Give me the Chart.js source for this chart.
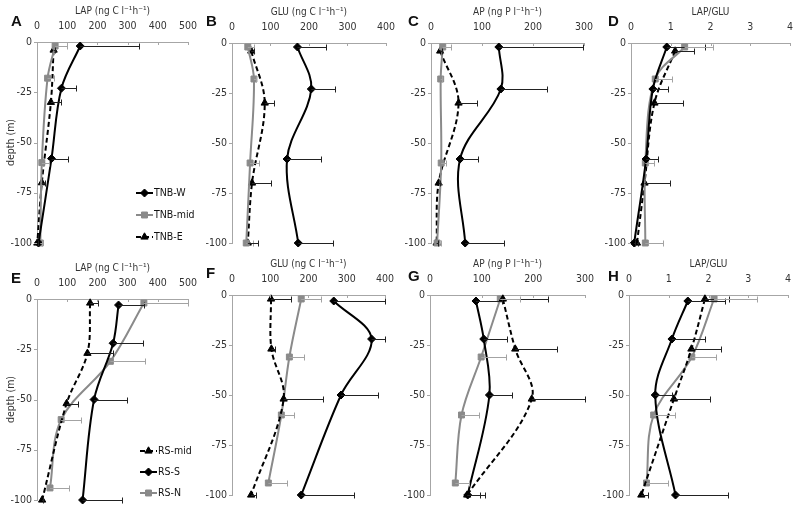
<!DOCTYPE html>
<html>
<head>
<meta charset="utf-8">
<script src="https://cdn.jsdelivr.net/npm/chart.js@4.4.1/dist/chart.umd.min.js"></script>
<style>
  body { margin: 0; background: #fff; width: 798px; height: 513px; position: relative; overflow: hidden; }
  canvas { position: absolute; }
  .letter { position: absolute; font: bold 15px "Liberation Sans", Arial, sans-serif; line-height: 15px; color: #111; }
</style>
</head>
<body>
<script>
// depths of the sampling points (m)
const depthTNBW = [-2, -23, -58, -100];
const depthTNBmid = [-2, -18, -60, -100];
const depthTNBE = [-4, -30, -70, -100];
const depthRSmid = [-2, -27, -52, -100];
const depthRSS = [-3, -22, -50, -100];
const depthRSN = [-2, -31, -60, -94];

// A - LAP, TNB
const lapTNBW = [143, 81, 48, 5];
const lapTNBWsd = [194, 48, 54, 0];
const lapTNBmid = [60, 35, 16, 11];
const lapTNBmidSd = [40, 22, 23, 6];
const lapTNBE = [55, 46, 16, 1];
const lapTNBEsd = [5, 32, 9, 3];
// B - GLU, TNB
const gluTNBW = [170, 206, 143, 172];
const gluTNBWsd = [74, 61, 87, 91];
const gluTNBmid = [41, 57, 47, 37];
const gluTNBmidSd = [17, 6, 24, 17];
const gluTNBE = [50, 85, 52, 41];
const gluTNBEsd = [8, 24, 49, 26];
// C - AP, TNB
const apTNBW = [133, 137, 57, 67];
const apTNBWsd = [165, 91, 35, 76];
const apTNBmid = [23, 19, 20, 12];
const apTNBmidSd = [16, 3, 10, 8];
const apTNBE = [18, 54, 15, 11];
const apTNBEsd = [3, 37, 3, 3];
// D - LAP/GLU, TNB
const ratioTNBW = [0.90, 0.55, 0.38, 0.08];
const ratioTNBWsd = [0.95, 0.37, 0.29, 0.03];
const ratioTNBmid = [1.35, 0.61, 0.36, 0.36];
const ratioTNBmidSd = [0.71, 0.42, 0.22, 0.44];
const ratioTNBE = [1.11, 0.59, 0.34, 0.15];
const ratioTNBEsd = [0.48, 0.72, 0.63, 0.02];
// E - LAP, RS
const lapRSmid = [176, 167, 98, 17];
const lapRSmidSd = [25, 85, 37, 2];
const lapRSS = [270, 252, 189, 151];
const lapRSSsd = [84, 100, 109, 130];
const lapRSN = [354, 243, 80, 43];
const lapRSNsd = [146, 113, 67, 63];
// F - GLU, RS
const gluRSmid = [102, 103, 135, 50];
const gluRSmidSd = [51, 10, 104, 14];
const gluRSS = [266, 365, 285, 181];
const gluRSSsd = [134, 35, 98, 138];
const gluRSN = [181, 150, 129, 95];
const gluRSNsd = [53, 38, 33, 48];
// G - AP, RS
const apRSmid = [141, 165, 197, 72];
const apRSmidSd = [87, 80, 103, 25];
const apRSS = [89, 104, 115, 73];
const apRSSsd = [50, 45, 44, 34];
const apRSN = [136, 99, 61, 49];
const apRSNsd = [38, 49, 33, 26];
// H - LAP/GLU, RS
const ratioRSmid = [1.91, 1.57, 1.13, 0.31];
const ratioRSmidSd = [0.61, 0.75, 0.92, 0.17];
const ratioRSS = [1.48, 1.08, 0.66, 1.17];
const ratioRSSsd = [0.93, 0.82, 0.43, 1.32];
const ratioRSN = [2.14, 1.58, 0.62, 0.44];
const ratioRSNsd = [1.08, 0.62, 0.53, 0.54];

const FONT = "'Liberation Sans Narrow', 'Arial Narrow', 'DejaVu Sans Condensed', sans-serif";
const AXIS = '#a6a6a6';
const TXT = '#333';

const black = { color: '#000', pt: 'rectRot', r: 4, dash: [], err: '#222' };
const grey = { color: '#8a8a8a', pt: 'rect', r: 4.2, dash: [], err: '#a3a3a3' };
const dashed = { color: '#000', pt: 'triangle', r: 4.2, dash: [5, 3], err: '#222' };

const TNB = (w, wsd, m, msd, e, esd) => [
  ['TNB-W', black, depthTNBW, w, wsd],
  ['TNB-mid', grey, depthTNBmid, m, msd],
  ['TNB-E', dashed, depthTNBE, e, esd]
];
const RS = (m, msd, s, ssd, n, nsd) => [
  ['RS-mid', dashed, depthRSmid, m, msd],
  ['RS-S', black, depthRSS, s, ssd],
  ['RS-N', grey, depthRSN, n, nsd]
];

const panels = [
  { letter: 'A', lp: [11, 15], box: [37, 42, 192, 243], title: 'LAP (ng C l⁻¹h⁻¹)', max: 500, step: 100, depth: true,
    legend: [136, 193, 22], series: TNB(lapTNBW, lapTNBWsd, lapTNBmid, lapTNBmidSd, lapTNBE, lapTNBEsd) },
  { letter: 'B', lp: [206, 15], box: [232, 43, 390, 243], title: 'GLU (ng C l⁻¹h⁻¹)', max: 400, step: 100,
    series: TNB(gluTNBW, gluTNBWsd, gluTNBmid, gluTNBmidSd, gluTNBE, gluTNBEsd) },
  { letter: 'C', lp: [408, 15], box: [431, 43, 588, 243], title: 'AP (ng P l⁻¹h⁻¹)', max: 300, step: 100,
    series: TNB(apTNBW, apTNBWsd, apTNBmid, apTNBmidSd, apTNBE, apTNBEsd) },
  { letter: 'D', lp: [608, 15], box: [631, 43, 790, 243], title: 'LAP/GLU', max: 4, step: 1,
    series: TNB(ratioTNBW, ratioTNBWsd, ratioTNBmid, ratioTNBmidSd, ratioTNBE, ratioTNBEsd) },
  { letter: 'E', lp: [11, 272], box: [37, 299, 192, 500], title: 'LAP (ng C l⁻¹h⁻¹)', max: 500, step: 100, depth: true,
    legend: [140, 451, 21], series: RS(lapRSmid, lapRSmidSd, lapRSS, lapRSSsd, lapRSN, lapRSNsd) },
  { letter: 'F', lp: [206, 267], box: [232, 295, 389, 495], title: 'GLU (ng C l⁻¹h⁻¹)', max: 400, step: 100,
    series: RS(gluRSmid, gluRSmidSd, gluRSS, gluRSSsd, gluRSN, gluRSNsd) },
  { letter: 'G', lp: [408, 270], box: [430, 295, 589, 495], title: 'AP (ng P l⁻¹h⁻¹)', max: 300, step: 100,
    series: RS(apRSmid, apRSmidSd, apRSS, apRSSsd, apRSN, apRSNsd) },
  { letter: 'H', lp: [608, 270], box: [629, 295, 788, 495], title: 'LAP/GLU', max: 4, step: 1,
    series: RS(ratioRSmid, ratioRSmidSd, ratioRSS, ratioRSSsd, ratioRSN, ratioRSNsd) }
];

const YW = 40, XH = 44, PADR = 14, PADB = 12;

function marker(ctx, st, x, y) {
  ctx.fillStyle = st.color;
  ctx.strokeStyle = st.color;
  ctx.lineWidth = 1;
  ctx.setLineDash([]);
  Chart.helpers.drawPoint(ctx, { pointStyle: st.pt, radius: st.r, rotation: 0, borderWidth: 1 }, x, y);
}

// error bars, inward tick marks and the in-plot legend
const extras = {
  id: 'extras',
  afterDatasetsDraw(chart) {
    const { ctx, chartArea: a, scales: { x, y } } = chart;
    ctx.save();
    ctx.beginPath();
    ctx.rect(a.left, a.top - 8, a.right - a.left + 1.5, a.bottom - a.top + 16);
    ctx.clip();
    ctx.lineWidth = 1;
    chart.data.datasets.forEach(ds => {
      ctx.strokeStyle = ds.errColor;
      ds.data.forEach((p, i) => {
        const e = ds.sd[i];
        if (!e) return;
        const x0 = x.getPixelForValue(p.x);
        const x1 = Math.round(x.getPixelForValue(p.x + e)) + 0.5;
        const py = Math.round(y.getPixelForValue(p.y)) + 0.5;
        ctx.beginPath();
        ctx.moveTo(x0, py); ctx.lineTo(x1, py);
        ctx.moveTo(x1, py - 3); ctx.lineTo(x1, py + 3);
        ctx.stroke();
      });
    });
    ctx.restore();
  },
  afterDraw(chart, args, opts) {
    const { ctx, chartArea: a, scales: { x, y } } = chart;
    ctx.save();
    ctx.strokeStyle = AXIS;
    ctx.lineWidth = 1;
    ctx.beginPath();
    x.ticks.forEach(t => {
      const px = Math.round(x.getPixelForValue(t.value)) + 0.5;
      ctx.moveTo(px, a.top); ctx.lineTo(px, a.top + 3);
    });
    y.ticks.forEach(t => {
      const py = Math.round(y.getPixelForValue(t.value)) + 0.5;
      ctx.moveTo(a.left - 3, py); ctx.lineTo(a.left, py);
    });
    ctx.stroke();
    if (opts.legend) {
      const [lx, ly, dy] = opts.legend;
      chart.data.datasets.forEach((ds, i) => {
        const yy = ly + i * dy;
        ctx.strokeStyle = ds.borderColor;
        ctx.lineWidth = 2;
        ctx.setLineDash(ds.borderDash);
        ctx.beginPath();
        ctx.moveTo(lx, yy); ctx.lineTo(lx + 17, yy);
        ctx.stroke();
        marker(ctx, ds.st, lx + 8.5, yy);
        ctx.fillStyle = '#111';
        ctx.font = '10.5px ' + FONT;
        ctx.textBaseline = 'middle';
        ctx.textAlign = 'left';
        ctx.fillText(ds.label, lx + 18, yy + 0.5);
      });
    }
    ctx.restore();
  }
};

panels.forEach(p => {
  const [l, t, r, b] = p.box;
  const cl = l - YW, ct = t - XH;
  const cv = document.createElement('canvas');
  cv.width = r - l + YW + PADR;
  cv.height = b - t + XH + PADB;
  cv.style.left = cl + 'px';
  cv.style.top = ct + 'px';
  document.body.appendChild(cv);

  const lt = document.createElement('div');
  lt.className = 'letter';
  lt.textContent = p.letter;
  lt.style.left = p.lp[0] + 'px';
  lt.style.top = (p.lp[1] - 2) + 'px';
  document.body.appendChild(lt);

  const datasets = p.series.map(([label, st, depth, vals, sd]) => ({
    label, st, sd,
    data: depth.map((d, i) => ({ x: vals[i], y: d })),
    borderColor: st.color,
    backgroundColor: st.color,
    borderWidth: 2,
    borderDash: st.dash,
    pointStyle: st.pt,
    pointRadius: st.r,
    pointBorderWidth: 1,
    pointBackgroundColor: st.color,
    pointBorderColor: st.color,
    showLine: true,
    tension: 0.35,
    clip: false,
    errColor: st.err
  }));

  new Chart(cv, {
    type: 'scatter',
    data: { datasets },
    plugins: [extras],
    options: {
      responsive: false,
      animation: false,
      devicePixelRatio: 1,
      layout: { padding: { left: 0, top: 0, right: PADR, bottom: PADB } },
      plugins: {
        legend: { display: false },
        tooltip: { enabled: false },
        extras: { legend: p.legend ? [p.legend[0] - cl, p.legend[1] - ct, p.legend[2]] : null }
      },
      scales: {
        x: {
          type: 'linear', position: 'top', min: 0, max: p.max,
          grid: { display: false, drawTicks: false },
          border: { display: true, color: AXIS, width: 1 },
          ticks: { stepSize: p.step, padding: 9, color: TXT, font: { family: FONT, size: 10.5 } },
          title: { display: true, text: p.title, color: TXT, padding: { top: 7, bottom: 0 }, font: { family: FONT, size: 10 } },
          afterFit: s => { s.height = XH; }
        },
        y: {
          type: 'linear', position: 'left', min: -100, max: 0,
          grid: { display: false, drawTicks: false },
          border: { display: true, color: AXIS, width: 1 },
          ticks: { stepSize: 25, padding: 5, color: TXT, font: { family: FONT, size: 10.5 } },
          title: { display: !!p.depth, text: 'depth (m)', color: TXT, padding: { top: 8, bottom: 0 }, font: { family: FONT, size: 10.5 } },
          afterFit: s => { s.width = YW; }
        }
      }
    }
  });
});
</script>
</body>
</html>
